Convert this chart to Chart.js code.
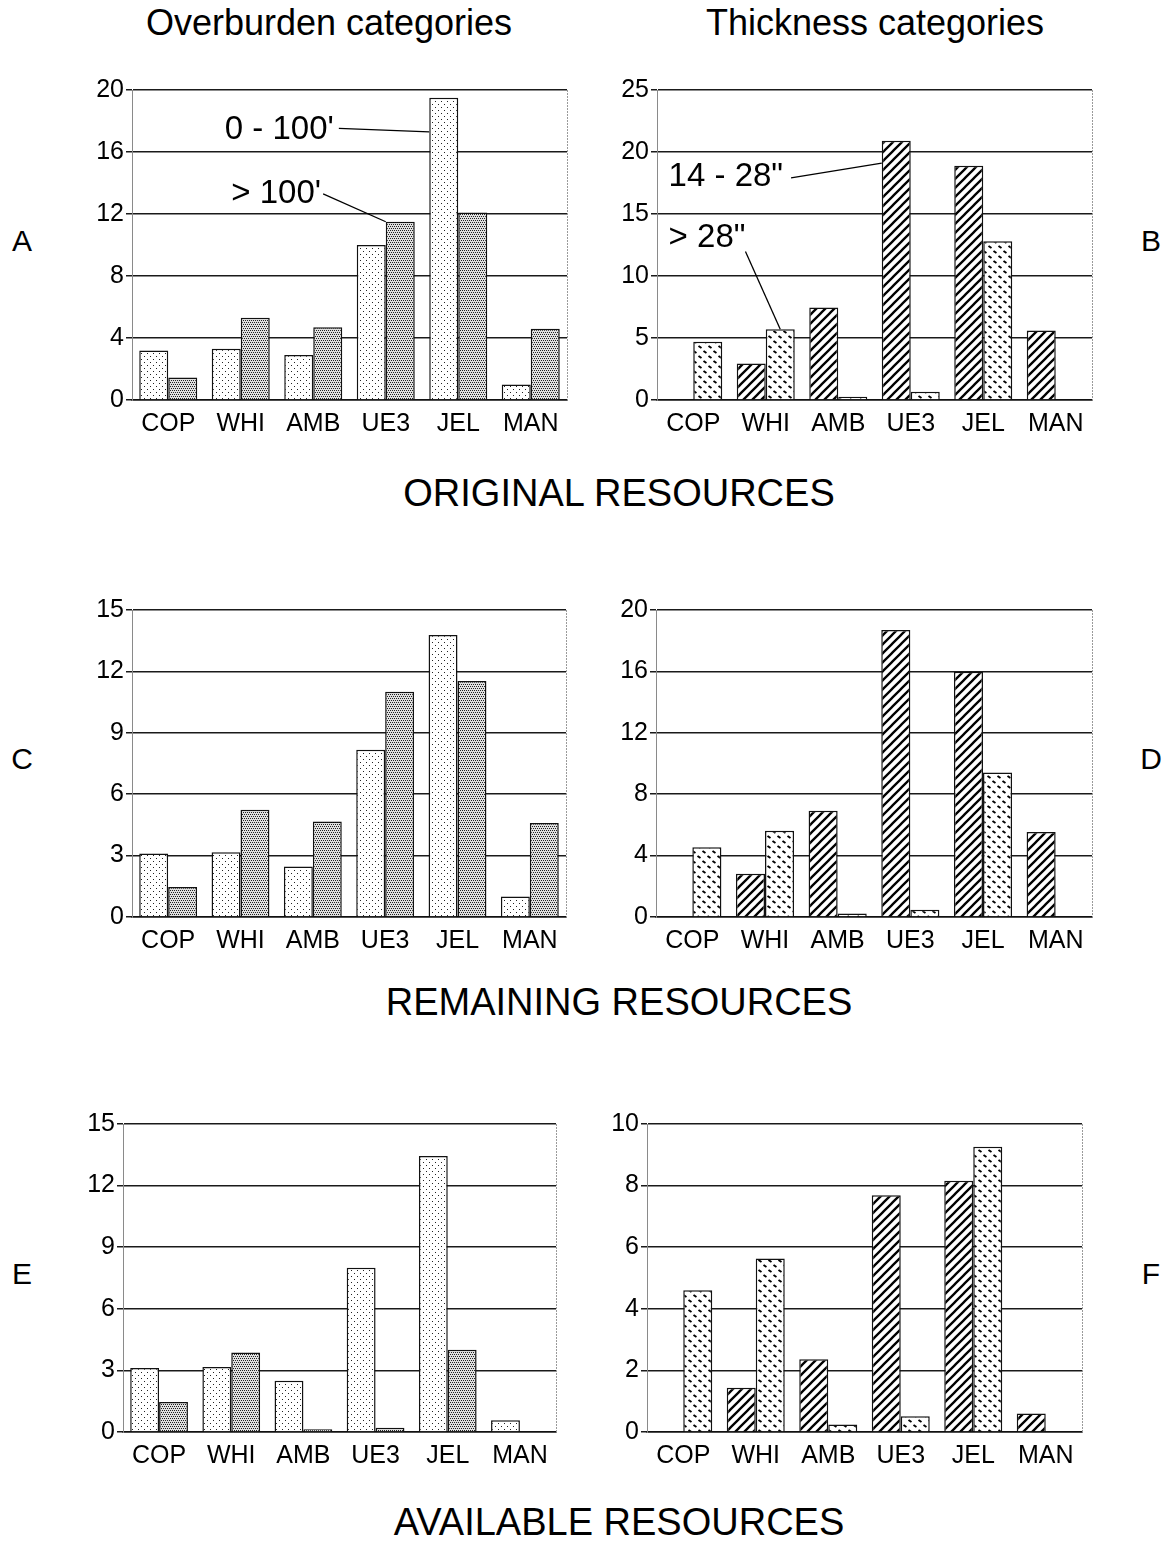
<!DOCTYPE html>
<html>
<head>
<meta charset="utf-8">
<script src="https://cdn.jsdelivr.net/npm/chart.js"></script>
<style>
  body { margin: 0; background: #fff; }
  #page { position: relative; width: 1172px; height: 1543px; background: #fff; font-family: 'Liberation Sans', Arial, sans-serif; color: #000; }
  .lbl { position: absolute; transform: translate(-50%, -50%); white-space: nowrap; line-height: 1; }
  .box { position: absolute; }
</style>
</head>
<body>
<div id="page"></div>
<script>
const categories = ["COP", "WHI", "AMB", "UE3", "JEL", "MAN"];

// Original resources
const origShallow = [3.2, 3.3, 2.9, 10.0, 19.5, 1.0];   // 0 - 100'
const origDeep = [1.45, 5.3, 4.7, 11.5, 12.1, 4.6];     // > 100'
const origThin = [0, 2.95, 7.45, 20.9, 18.9, 5.6];      // 14 - 28"
const origThick = [4.7, 5.7, 0.27, 0.67, 12.8, 0];      // > 28"

// Remaining resources
const remShallow = [3.1, 3.16, 2.47, 8.17, 13.78, 1.0];
const remDeep = [1.46, 5.24, 4.67, 11.0, 11.53, 4.59];
const remThin = [0, 2.82, 6.92, 18.7, 15.97, 5.53];
const remThick = [4.55, 5.62, 0.22, 0.48, 9.41, 0];

// Available resources
const availShallow = [3.12, 3.17, 2.49, 8.0, 13.44, 0.57];
const availDeep = [1.46, 3.87, 0.13, 0.21, 4.01, 0];
const availThin = [0, 1.44, 2.36, 7.69, 8.16, 0.6];
const availThick = [4.6, 5.63, 0.24, 0.51, 9.26, 0];

const FONT = "'Liberation Sans', Arial, sans-serif";
Chart.defaults.font.family = FONT;
Chart.defaults.color = "#000";

function makeTile(w, h, draw, bg) {
  const c = document.createElement("canvas");
  c.width = w;
  c.height = h;
  const g = c.getContext("2d");
  g.fillStyle = bg || "#fff";
  g.fillRect(0, 0, w, h);
  draw(g);
  return g.createPattern(c, "repeat");
}

// fill patterns
const lightDots = makeTile(6, 6, (g) => {
  g.fillStyle = "#222";
  g.fillRect(1, 1, 1, 1);
  g.fillRect(4, 4, 1, 1);
});
const darkDots = makeTile(4, 4, (g) => {
  g.fillStyle = "#222";
  g.fillRect(0, 0, 1, 1);
  g.fillRect(2, 0, 1, 1);
  g.fillRect(1, 2, 1, 1);
  g.fillRect(3, 2, 1, 1);
}, "#e0e0e0");
const hatch = makeTile(9, 9, (g) => {
  g.strokeStyle = "#000";
  g.lineWidth = 2.3;
  g.beginPath();
  g.moveTo(-2, 11); g.lineTo(11, -2);
  g.moveTo(-2, 2); g.lineTo(2, -2);
  g.moveTo(7, 11); g.lineTo(11, 7);
  g.stroke();
});
const dashes = makeTile(10, 10, (g) => {
  g.strokeStyle = "#000";
  g.lineWidth = 2;
  g.beginPath();
  g.moveTo(1.5, 6); g.lineTo(4.5, 8);
  g.moveTo(6.5, 1); g.lineTo(9.5, 3);
  g.stroke();
});

const page = document.getElementById("page");

function addText(text, x, y, size) {
  const d = document.createElement("div");
  d.className = "lbl";
  d.style.left = x + "px";
  d.style.top = y + "px";
  d.style.fontSize = size + "px";
  d.textContent = text;
  page.appendChild(d);
}

// titles and panel letters
addText("Overburden categories", 329, 23, 36);
addText("Thickness categories", 875, 23, 36);
addText("ORIGINAL RESOURCES", 619, 493, 38);
addText("REMAINING RESOURCES", 619, 1002, 38);
addText("AVAILABLE RESOURCES", 619, 1522, 38);
addText("A", 22, 241, 30);
addText("B", 1151, 241, 30);
addText("C", 22, 759, 30);
addText("D", 1151, 759, 30);
addText("E", 22, 1274, 30);
addText("F", 1151, 1274, 30);

// leader-line labels drawn inside a chart
function notesPlugin(notes) {
  return {
    id: "notes",
    afterDatasetsDraw(chart) {
      const ctx = chart.ctx;
      const xs = chart.scales.x;
      const ys = chart.scales.y;
      ctx.save();
      ctx.font = "33px " + FONT;
      ctx.textBaseline = "middle";
      ctx.textAlign = "left";
      ctx.fillStyle = "#000";
      ctx.strokeStyle = "#000";
      ctx.lineWidth = 1.3;
      notes.forEach((n) => {
        const tx = xs.getPixelForValue(n.at[0]);
        const ty = ys.getPixelForValue(n.at[1]);
        ctx.fillText(n.text, tx, ty);
        const w = ctx.measureText(n.text).width;
        const bar = chart.getDatasetMeta(n.ds).data[n.idx];
        let ex, ey;
        if (n.to === "left") {
          ex = bar.x - bar.width / 2;
          ey = ys.getPixelForValue(n.toValue);
        } else if (n.to === "topLeft") {
          ex = bar.x - bar.width / 2;
          ey = bar.y;
        } else {
          ex = bar.x;
          ey = bar.y;
        }
        ctx.beginPath();
        ctx.moveTo(tx + w + n.from[0], ty + n.from[1]);
        ctx.lineTo(ex, ey);
        ctx.stroke();
      });
      ctx.restore();
    },
  };
}

const rightBorder = {
  id: "rightBorder",
  afterDraw(chart) {
    const a = chart.chartArea;
    const ctx = chart.ctx;
    ctx.save();
    ctx.strokeStyle = "#9a9a9a";
    ctx.lineWidth = 1;
    ctx.setLineDash([2, 1]);
    ctx.beginPath();
    ctx.moveTo(a.right + 0.5, a.top);
    ctx.lineTo(a.right + 0.5, a.bottom);
    ctx.stroke();
    ctx.restore();
  },
};

const panels = [
  {
    plot: { l: 132, t: 90, r: 567, b: 400 }, max: 20, step: 4,
    series: [origShallow, origDeep], fills: [lightDots, darkDots],
    notes: [
      { text: "0 - 100'", at: [0.78, 17.4], ds: 0, idx: 4, from: [5, -2], to: "left", toValue: 17.3 },
      { text: "> 100'", at: [0.87, 13.3], ds: 1, idx: 3, from: [2, 0], to: "topLeft" },
    ],
  },
  {
    plot: { l: 657, t: 90, r: 1092, b: 400 }, max: 25, step: 5,
    series: [origThin, origThick], fills: [hatch, dashes],
    notes: [
      { text: '14 - 28"', at: [-0.34, 18.0], ds: 0, idx: 3, from: [8, 1], to: "left", toValue: 19.1 },
      { text: '> 28"', at: [-0.34, 13.1], ds: 1, idx: 1, from: [0, 14], to: "top" },
    ],
  },
  {
    plot: { l: 132, t: 610, r: 566, b: 917 }, max: 15, step: 3,
    series: [remShallow, remDeep], fills: [lightDots, darkDots], notes: [],
  },
  {
    plot: { l: 656, t: 610, r: 1092, b: 917 }, max: 20, step: 4,
    series: [remThin, remThick], fills: [hatch, dashes], notes: [],
  },
  {
    plot: { l: 123, t: 1124, r: 556, b: 1432 }, max: 15, step: 3,
    series: [availShallow, availDeep], fills: [lightDots, darkDots], notes: [],
  },
  {
    plot: { l: 647, t: 1124, r: 1082, b: 1432 }, max: 10, step: 2,
    series: [availThin, availThick], fills: [hatch, dashes], notes: [],
  },
];

const AXIS_W = 70;
const PAD_TOP = 20;
const PAD_RIGHT = 15;
const AXIS_H = 55;

panels.forEach((p) => {
  const box = document.createElement("div");
  box.className = "box";
  box.style.left = p.plot.l - AXIS_W + "px";
  box.style.top = p.plot.t - PAD_TOP + "px";
  box.style.width = p.plot.r - p.plot.l + AXIS_W + PAD_RIGHT + "px";
  box.style.height = p.plot.b - p.plot.t + PAD_TOP + AXIS_H + "px";
  const canvas = document.createElement("canvas");
  box.appendChild(canvas);
  page.appendChild(box);

  new Chart(canvas, {
    type: "bar",
    data: {
      labels: categories,
      datasets: p.series.map((values, i) => ({
        data: values,
        backgroundColor: p.fills[i],
        borderColor: "#111",
        borderWidth: 1.5,
        barPercentage: 1.0,
        categoryPercentage: 0.8,
      })),
    },
    options: {
      responsive: true,
      maintainAspectRatio: false,
      animation: false,
      events: [],
      layout: { padding: { top: PAD_TOP, right: PAD_RIGHT, left: 0, bottom: 0 } },
      plugins: {
        legend: { display: false },
        tooltip: { enabled: false },
      },
      scales: {
        x: {
          grid: { display: false, drawTicks: false },
          border: { display: true, color: "#111", width: 1.5 },
          ticks: { font: { size: 25 }, color: "#000", padding: 9, maxRotation: 0 },
          afterFit: (scale) => { scale.height = AXIS_H; },
        },
        y: {
          min: 0,
          max: p.max,
          grid: { color: "#1a1a1a", lineWidth: 1.5, drawTicks: true, tickLength: 6 },
          border: { display: true, color: "#8a8a8a", width: 1 },
          ticks: { stepSize: p.step, font: { size: 25 }, color: "#000", padding: 2 },
          afterFit: (scale) => { scale.width = AXIS_W; },
        },
      },
    },
    plugins: [rightBorder, notesPlugin(p.notes)],
  });
});
</script>
</body>
</html>
